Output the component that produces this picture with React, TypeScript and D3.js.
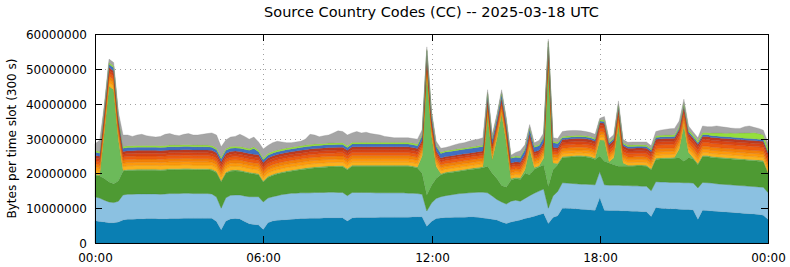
import { useEffect, useRef } from 'react'
import * as d3 from 'd3'

const WIDTH = 790
const HEIGHT = 267
const MARGIN = { top: 34, right: 22, bottom: 24, left: 95 }

// values in MB per 300 s slot, one every 10 minutes, 00:00 .. 24:00 (145 points)
const darkBlue = [
  6.4, 6.2, 6.0, 5.8, 5.8, 6.0, 6.6, 6.8, 6.8, 6.9, 6.9, 7.0,
  7.0, 7.0, 6.9, 6.9, 7.0, 7.0, 7.0, 7.1, 7.1, 7.1, 7.1, 7.1,
  7.1, 7.1, 6.2, 3.8, 6.3, 6.9, 7.0, 6.9, 6.2, 5.5, 5.3, 5.2,
  3.9, 5.8, 6.3, 6.5, 6.6, 6.7, 6.8, 6.9, 7.0, 7.0, 7.1, 7.1,
  7.1, 7.2, 7.2, 7.2, 7.2, 7.2, 6.3, 7.2, 7.3, 7.3, 7.3, 7.3,
  7.3, 7.4, 7.4, 7.4, 7.4, 7.4, 7.4, 7.4, 7.5, 7.5, 7.5, 4.8,
  6.2, 7.0, 7.2, 7.3, 7.3, 7.4, 7.4, 7.4, 7.5, 7.5, 7.4, 7.2,
  7.0, 6.8, 6.6, 6.0, 5.6, 6.0, 6.3, 6.6, 7.0, 7.3, 7.7, 8.1,
  8.5, 5.6, 7.3, 7.8, 10.0, 10.0, 9.9, 9.8, 9.7, 9.6, 9.5, 9.4,
  13.0, 9.4, 9.3, 9.3, 9.3, 9.2, 9.2, 9.1, 9.1, 9.0, 9.0, 7.6,
  10.2, 10.0, 9.9, 9.8, 9.8, 9.7, 9.6, 9.6, 9.5, 6.8, 9.4, 9.3,
  9.2, 9.1, 9.0, 8.9, 8.8, 8.7, 8.6, 8.5, 8.4, 8.3, 8.2, 8.0,
  6.8,
]
const lightBlue = [
  6.8, 6.7, 6.3, 6.0, 5.8, 6.0, 7.2, 7.2, 7.2, 7.2, 7.2, 7.1,
  7.1, 7.1, 7.1, 7.2, 7.2, 7.2, 7.2, 7.2, 7.2, 7.1, 7.1, 7.1,
  7.1, 7.0, 7.0, 6.2, 6.7, 6.8, 6.8, 6.9, 7.3, 7.8, 8.0, 8.1,
  7.9, 7.1, 7.0, 7.1, 7.3, 7.4, 7.5, 7.4, 7.4, 7.4, 7.3, 7.4,
  7.4, 7.3, 7.4, 7.4, 7.3, 7.3, 7.3, 7.3, 7.2, 7.2, 7.2, 7.2,
  7.1, 7.0, 7.0, 7.0, 7.0, 7.0, 7.0, 6.9, 6.8, 6.7, 6.5, 4.4,
  5.3, 5.8, 6.1, 6.3, 6.5, 6.6, 6.8, 6.9, 6.9, 7.0, 7.2, 7.4,
  7.4, 6.7, 5.9, 5.8, 5.6, 6.0, 6.0, 5.4, 5.8, 6.3, 6.6, 6.8,
  7.0, 4.4, 6.2, 7.0, 7.3, 7.2, 7.2, 7.2, 7.2, 7.3, 7.3, 7.3,
  7.5, 7.3, 7.3, 7.3, 7.3, 7.3, 7.3, 7.3, 7.3, 7.3, 7.3, 7.4,
  7.4, 7.5, 7.6, 7.6, 7.6, 7.7, 7.7, 7.7, 7.7, 9.0, 8.0, 8.0,
  8.0, 7.9, 7.9, 7.9, 7.9, 7.9, 7.9, 7.9, 7.9, 7.9, 7.9, 8.0,
  7.7,
]
const green = [
  6.3, 6.3, 6.2, 5.7, 5.4, 5.8, 6.8, 6.8, 6.8, 6.8, 6.8, 6.8,
  6.8, 6.8, 6.8, 6.8, 6.8, 6.8, 6.8, 6.8, 6.8, 6.8, 6.8, 6.8,
  6.8, 6.8, 7.0, 7.6, 7.0, 6.9, 6.9, 6.8, 6.8, 6.7, 6.5, 6.3,
  5.7, 5.9, 6.1, 6.2, 6.2, 6.3, 6.3, 6.5, 6.6, 6.8, 7.0, 7.0,
  7.1, 7.2, 7.2, 7.2, 7.4, 7.4, 7.4, 7.5, 7.5, 7.5, 7.5, 7.5,
  7.6, 7.6, 7.6, 7.6, 7.6, 7.6, 7.6, 7.7, 7.5, 7.3, 6.0, 4.6,
  5.0, 5.7, 6.3, 6.4, 6.4, 6.4, 6.4, 6.5, 6.6, 6.7, 6.8, 7.0,
  7.6, 6.5, 6.0, 4.7, 4.8, 6.0, 6.2, 6.2, 7.2, 6.0, 6.9, 6.9,
  6.9, 6.2, 7.5, 7.7, 7.2, 7.4, 7.6, 7.8, 7.9, 7.8, 7.7, 7.3,
  4.5, 6.8, 6.4, 5.9, 5.4, 5.5, 5.5, 5.6, 5.7, 5.8, 5.7, 6.0,
  6.4, 6.6, 6.7, 6.8, 6.9, 7.1, 6.2, 7.2, 7.0, 6.7, 7.4, 7.5,
  7.3, 7.4, 7.4, 7.4, 7.4, 7.4, 7.4, 7.4, 7.4, 7.4, 7.4, 7.4,
  5.5,
]
const lightGreen = [
  0.3, 0.3, 13.5, 27.5, 27.0, 12.0, 0.3, 0.3, 0.3, 0.3, 0.3, 0.3,
  0.3, 0.3, 0.3, 0.3, 0.3, 0.3, 0.3, 0.3, 0.3, 0.3, 0.3, 0.3,
  0.3, 0.3, 0.3, 0.3, 0.3, 0.3, 0.3, 0.3, 0.3, 0.3, 0.3, 0.3,
  0.3, 0.3, 0.3, 0.3, 0.3, 0.3, 0.3, 0.3, 0.3, 0.3, 0.3, 0.3,
  0.3, 0.3, 0.3, 0.3, 0.3, 0.3, 0.3, 0.3, 0.3, 0.3, 0.3, 0.3,
  0.3, 0.3, 0.3, 0.3, 0.3, 0.3, 0.3, 0.3, 0.3, 0.3, 5.0, 35.5,
  14.5, 3.5, 0.3, 0.3, 0.3, 0.3, 0.3, 0.3, 0.3, 0.3, 0.3, 0.3,
  15.0, 4.0, 11.5, 20.5, 13.0, 0.5, 0.3, 0.5, 1.0, 7.4, 0.5, 0.3,
  2.0, 35.5, 2.0, 0.3, 0.3, 0.3, 0.3, 0.3, 0.3, 0.3, 0.3, 0.3,
  4.6, 6.0, 0.3, 2.0, 12.0, 1.0, 0.3, 0.3, 0.3, 0.3, 0.3, 0.3,
  0.3, 0.3, 0.3, 0.3, 0.3, 2.5, 10.2, 1.5, 0.3, 0.3, 0.3, 0.3,
  0.3, 0.3, 0.3, 0.3, 0.3, 0.3, 0.3, 0.3, 0.3, 0.3, 0.3, 0.3,
  0.3,
]
const gold = [
  1.1, 1.1, 1.1, 1.1, 1.1, 1.1, 1.1, 1.1, 1.1, 1.1, 1.1, 1.1,
  1.1, 1.1, 1.1, 1.1, 1.1, 1.1, 1.1, 1.1, 1.1, 1.1, 1.1, 1.1,
  1.1, 1.1, 1.1, 1.1, 1.1, 1.1, 1.1, 1.1, 1.1, 1.1, 1.1, 1.1,
  1.0, 1.0, 1.0, 1.0, 1.0, 1.0, 1.0, 1.0, 1.0, 1.0, 1.0, 1.0,
  1.0, 1.0, 1.0, 1.0, 1.0, 1.0, 1.0, 1.0, 1.0, 1.0, 1.0, 1.0,
  1.0, 1.0, 1.0, 1.0, 1.0, 1.0, 1.0, 1.0, 1.0, 1.0, 0.9, 0.9,
  0.9, 0.9, 0.9, 0.9, 0.9, 0.9, 0.9, 0.9, 0.9, 0.9, 0.9, 0.9,
  0.9, 0.9, 0.9, 0.9, 0.9, 0.9, 0.9, 0.9, 0.9, 0.9, 0.9, 0.9,
  0.9, 0.9, 0.9, 0.9, 0.8, 0.8, 0.8, 0.8, 0.8, 0.8, 0.8, 0.8,
  0.8, 0.8, 0.8, 0.8, 0.8, 0.8, 0.8, 0.8, 0.8, 0.8, 0.8, 0.8,
  0.9, 0.9, 0.9, 0.9, 0.9, 0.9, 0.9, 0.9, 0.9, 0.9, 0.9, 0.9,
  0.9, 0.9, 0.9, 0.9, 0.9, 0.9, 0.9, 0.9, 0.9, 0.9, 0.9, 0.9,
  0.9,
]
const orange = [
  0.9, 0.9, 0.9, 0.9, 0.9, 0.9, 0.9, 0.9, 0.9, 0.9, 0.9, 0.9,
  0.9, 0.9, 0.9, 0.9, 0.9, 0.9, 0.9, 0.9, 0.9, 0.9, 0.9, 0.9,
  0.9, 0.9, 0.9, 0.9, 0.9, 0.9, 0.9, 0.9, 0.9, 0.9, 0.9, 0.9,
  0.9, 0.9, 0.9, 0.9, 0.9, 0.9, 0.9, 0.9, 0.9, 0.9, 0.9, 0.9,
  0.9, 0.9, 0.9, 0.9, 0.9, 0.9, 0.9, 0.9, 0.9, 0.9, 0.9, 0.9,
  0.9, 0.9, 0.9, 0.9, 0.9, 0.9, 0.9, 0.9, 0.9, 0.9, 0.8, 0.8,
  0.8, 0.8, 0.8, 0.8, 0.8, 0.8, 0.8, 0.8, 0.8, 0.8, 0.8, 0.8,
  0.8, 0.8, 0.8, 0.8, 0.8, 0.8, 0.8, 0.8, 0.8, 0.8, 0.8, 0.8,
  0.8, 0.8, 0.8, 0.8, 0.8, 0.8, 0.8, 0.8, 0.8, 0.8, 0.8, 0.8,
  0.8, 0.8, 0.8, 0.8, 0.8, 0.8, 0.8, 0.8, 0.8, 0.8, 0.8, 0.8,
  0.9, 0.9, 0.9, 0.9, 0.9, 0.9, 0.9, 0.9, 0.9, 0.9, 0.9, 0.9,
  0.9, 0.9, 0.9, 0.9, 0.9, 0.9, 0.9, 0.9, 0.9, 0.9, 0.9, 0.9,
  0.9,
]
const darkOrange = [
  0.9, 0.9, 0.9, 0.9, 0.9, 0.9, 0.9, 0.9, 0.9, 0.9, 0.9, 0.9,
  0.9, 0.9, 0.9, 0.9, 0.9, 0.9, 0.9, 0.9, 0.9, 0.9, 0.9, 0.9,
  0.9, 0.9, 0.9, 0.9, 0.9, 0.9, 0.9, 0.9, 0.9, 0.9, 0.9, 0.9,
  0.9, 0.9, 0.9, 0.9, 0.9, 0.9, 0.9, 0.9, 0.9, 0.9, 0.9, 0.9,
  0.9, 0.9, 0.9, 0.9, 0.9, 0.9, 0.9, 0.9, 0.9, 0.9, 0.9, 0.9,
  0.9, 0.9, 0.9, 0.9, 0.9, 0.9, 0.9, 0.9, 0.9, 0.9, 0.8, 0.8,
  0.8, 0.8, 0.8, 0.8, 0.8, 0.8, 0.8, 0.8, 0.8, 0.8, 0.8, 0.8,
  0.8, 0.8, 0.8, 0.8, 0.8, 0.8, 0.8, 0.8, 0.8, 0.8, 0.8, 0.8,
  0.8, 0.8, 0.8, 0.8, 0.8, 0.8, 0.8, 0.8, 0.8, 0.8, 0.8, 0.8,
  0.8, 0.8, 0.8, 0.8, 0.8, 0.8, 0.8, 0.8, 0.8, 0.8, 0.8, 0.8,
  0.9, 0.9, 0.9, 0.9, 0.9, 0.9, 0.9, 0.9, 0.9, 0.9, 0.9, 0.9,
  0.9, 0.9, 0.9, 0.9, 0.9, 0.9, 0.9, 0.9, 0.9, 0.9, 0.9, 0.9,
  0.9,
]
const redOrange = [
  0.9, 0.9, 0.9, 0.9, 0.9, 0.9, 0.9, 0.9, 0.9, 0.9, 0.9, 0.9,
  0.9, 0.9, 0.9, 0.9, 0.9, 0.9, 0.9, 0.9, 0.9, 0.9, 0.9, 0.9,
  0.9, 0.9, 0.9, 0.9, 0.9, 0.9, 0.9, 0.9, 0.9, 0.9, 0.9, 0.9,
  0.9, 0.9, 0.9, 0.9, 0.9, 0.9, 0.9, 0.9, 0.9, 0.9, 0.9, 0.9,
  0.9, 0.9, 0.9, 0.9, 0.9, 0.9, 0.9, 0.9, 0.9, 0.9, 0.9, 0.9,
  0.9, 0.9, 0.9, 0.9, 0.9, 0.9, 0.9, 0.9, 0.9, 0.9, 0.8, 0.8,
  0.8, 0.8, 0.8, 0.8, 0.8, 0.8, 0.8, 0.8, 0.8, 0.8, 0.8, 0.8,
  0.8, 0.8, 0.8, 0.8, 0.8, 0.8, 0.8, 0.8, 0.8, 0.8, 0.8, 0.8,
  0.8, 0.8, 0.8, 0.8, 0.9, 0.9, 0.9, 0.9, 0.9, 0.9, 0.9, 0.9,
  0.9, 0.9, 0.9, 0.9, 0.9, 0.9, 0.9, 0.9, 0.9, 0.9, 0.9, 0.9,
  1.1, 1.1, 1.1, 1.1, 1.1, 1.1, 1.1, 1.1, 1.1, 1.1, 1.1, 1.1,
  1.1, 1.1, 1.1, 1.1, 1.1, 1.1, 1.1, 1.1, 1.1, 1.1, 1.1, 1.1,
  1.1,
]
const red = [
  0.8, 0.8, 0.8, 0.8, 0.8, 0.8, 0.8, 0.8, 0.8, 0.8, 0.8, 0.8,
  0.8, 0.8, 0.8, 0.8, 0.8, 0.8, 0.8, 0.8, 0.8, 0.8, 0.8, 0.8,
  0.8, 0.8, 0.8, 0.8, 0.8, 0.8, 0.8, 0.8, 0.8, 0.8, 0.8, 0.8,
  0.8, 0.8, 0.8, 0.8, 0.8, 0.8, 0.8, 0.8, 0.8, 0.8, 0.8, 0.8,
  0.8, 0.8, 0.8, 0.8, 0.8, 0.8, 0.8, 0.8, 0.8, 0.8, 0.8, 0.8,
  0.8, 0.8, 0.8, 0.8, 0.8, 0.8, 0.8, 0.8, 0.8, 0.8, 0.6, 0.6,
  0.6, 0.6, 0.6, 0.6, 0.6, 0.6, 0.6, 0.6, 0.6, 0.6, 0.6, 0.6,
  0.6, 0.6, 0.6, 0.6, 0.6, 0.6, 0.6, 0.6, 0.6, 0.6, 0.6, 0.6,
  0.6, 0.6, 0.6, 0.6, 0.8, 0.8, 0.8, 0.8, 0.8, 0.8, 0.8, 0.8,
  0.8, 0.8, 0.8, 0.8, 0.8, 0.8, 0.8, 0.8, 0.8, 0.8, 0.8, 0.8,
  0.9, 0.9, 0.9, 0.9, 0.9, 0.9, 0.9, 0.9, 0.9, 0.9, 0.9, 0.9,
  0.9, 0.9, 0.9, 0.9, 0.9, 0.9, 0.9, 0.9, 0.9, 0.9, 0.9, 0.9,
  0.9,
]
const darkRed = [
  0.8, 0.8, 0.8, 0.8, 0.8, 0.8, 0.8, 0.8, 0.8, 0.8, 0.8, 0.8,
  0.8, 0.8, 0.8, 0.8, 0.8, 0.8, 0.8, 0.8, 0.8, 0.8, 0.8, 0.8,
  0.8, 0.8, 0.8, 0.8, 0.8, 0.8, 0.8, 0.8, 0.8, 0.8, 0.8, 0.8,
  0.8, 0.8, 0.8, 0.8, 0.8, 0.8, 0.8, 0.8, 0.8, 0.8, 0.8, 0.8,
  0.8, 0.8, 0.8, 0.8, 0.8, 0.8, 0.8, 0.8, 0.8, 0.8, 0.8, 0.8,
  0.8, 0.8, 0.8, 0.8, 0.8, 0.8, 0.8, 0.8, 0.8, 0.8, 0.6, 0.6,
  0.6, 0.6, 0.6, 0.6, 0.6, 0.6, 0.6, 0.6, 0.6, 0.6, 0.6, 0.6,
  0.6, 0.6, 0.6, 0.6, 0.6, 0.6, 0.6, 0.6, 0.6, 0.6, 0.6, 0.6,
  0.6, 0.6, 0.6, 0.6, 0.8, 0.8, 0.8, 0.8, 0.8, 0.8, 0.8, 0.8,
  0.8, 0.8, 0.8, 0.8, 0.8, 0.8, 0.8, 0.8, 0.8, 0.8, 0.8, 0.8,
  0.8, 0.8, 0.8, 0.8, 0.8, 0.8, 0.8, 0.8, 0.8, 0.8, 0.8, 0.8,
  0.8, 0.8, 0.8, 0.8, 0.8, 0.8, 0.8, 0.8, 0.8, 0.8, 0.8, 0.8,
  0.8,
]
const blue = [
  0.9, 0.9, 0.9, 0.9, 0.9, 0.9, 0.9, 0.9, 0.9, 0.9, 0.9, 0.9,
  0.9, 0.9, 0.9, 0.9, 0.9, 0.9, 0.9, 0.9, 0.9, 0.9, 0.9, 0.9,
  0.9, 0.9, 0.9, 0.9, 0.9, 0.9, 0.9, 0.9, 0.9, 0.9, 1.6, 0.9,
  0.8, 0.8, 0.8, 0.8, 0.8, 0.8, 0.8, 0.8, 0.8, 0.8, 0.8, 0.8,
  0.8, 0.8, 0.8, 0.8, 0.8, 0.8, 0.8, 0.8, 0.8, 0.8, 0.8, 0.8,
  0.8, 0.8, 0.8, 0.8, 0.8, 0.8, 0.8, 0.8, 0.8, 0.8, 1.3, 1.3,
  1.3, 1.3, 1.3, 1.3, 1.3, 1.3, 1.3, 1.3, 1.3, 1.3, 1.3, 1.3,
  1.3, 1.3, 1.3, 1.3, 1.3, 1.3, 1.3, 1.3, 1.3, 1.3, 1.3, 1.3,
  1.3, 1.3, 1.3, 1.3, 0.5, 0.5, 0.5, 0.5, 0.5, 0.5, 0.5, 0.5,
  0.5, 0.5, 0.5, 0.5, 0.5, 0.5, 0.5, 0.5, 0.5, 0.5, 0.5, 0.5,
  0.5, 0.5, 0.5, 0.5, 0.5, 0.5, 0.5, 0.5, 0.5, 0.5, 0.5, 0.5,
  0.5, 0.5, 0.5, 0.5, 0.5, 0.5, 0.5, 0.5, 0.5, 0.5, 0.5, 0.5,
  0.5,
]
const brightGreen = [
  0.5, 0.5, 0.5, 0.5, 0.5, 0.5, 0.5, 0.5, 0.5, 0.5, 0.5, 0.5,
  0.5, 0.5, 0.5, 0.5, 0.5, 0.5, 0.5, 0.5, 0.5, 0.5, 0.5, 0.5,
  0.5, 0.5, 0.5, 0.5, 0.5, 0.5, 0.5, 0.5, 0.5, 0.5, 0.5, 0.5,
  0.5, 0.5, 0.5, 0.5, 0.5, 0.5, 0.5, 0.5, 0.5, 0.5, 0.5, 0.5,
  0.5, 0.5, 0.5, 0.5, 0.5, 0.5, 0.5, 0.5, 0.5, 0.5, 0.5, 0.5,
  0.5, 0.5, 0.5, 0.5, 0.5, 0.5, 0.5, 0.5, 0.5, 0.5, 0.4, 0.4,
  0.4, 0.4, 0.4, 0.4, 0.4, 0.4, 0.4, 0.4, 0.4, 0.4, 0.4, 0.4,
  0.4, 0.4, 0.4, 0.4, 0.4, 0.4, 0.4, 0.4, 0.4, 0.4, 0.4, 0.4,
  0.4, 0.4, 0.4, 0.4, 0.4, 0.4, 0.4, 0.4, 0.4, 0.4, 0.4, 0.4,
  0.4, 0.4, 0.4, 0.4, 0.4, 0.4, 0.4, 0.4, 0.4, 0.4, 0.4, 0.4,
  0.5, 0.5, 0.5, 0.5, 0.5, 0.5, 0.6, 0.6, 0.6, 0.6, 0.6, 0.6,
  0.8, 0.9, 1.0, 1.0, 1.2, 1.2, 1.4, 1.5, 1.6, 1.8, 1.6, 1.4,
  1.0,
]
const gray = [
  1.9, 3.2, 0.8, 1.0, 1.0, 1.0, 3.3, 3.1, 2.7, 3.0, 3.2, 2.8,
  2.6, 2.4, 2.7, 3.2, 3.3, 2.9, 2.7, 3.0, 3.2, 2.9, 2.9, 3.1,
  3.3, 3.6, 3.7, 2.9, 2.5, 2.7, 2.8, 3.5, 3.2, 2.7, 2.8, 2.3,
  2.6, 2.3, 2.5, 2.5, 2.0, 1.5, 1.3, 1.3, 1.3, 1.7, 2.9, 2.6,
  2.0, 2.2, 2.3, 2.9, 3.4, 3.2, 3.1, 2.7, 3.1, 2.7, 2.9, 2.5,
  2.3, 2.1, 1.7, 1.5, 1.3, 1.3, 1.3, 1.3, 1.3, 1.4, 1.3, 0.8,
  0.8, 1.0, 1.1, 0.9, 1.1, 1.3, 1.5, 1.5, 1.7, 1.9, 1.9, 2.1,
  0.8, 1.0, 0.8, 0.8, 0.8, 0.5, 1.0, 1.6, 1.0, 0.8, 0.9, 1.1,
  1.0, 0.6, 1.0, 1.0, 1.4, 1.5, 1.5, 1.4, 1.3, 1.2, 1.1, 1.1,
  0.4, 1.0, 0.8, 0.8, 1.0, 0.9, 0.8, 0.9, 0.8, 0.8, 0.9, 0.8,
  1.2, 1.5, 1.6, 1.8, 1.8, 1.5, 1.0, 1.0, 0.8, 0.8, 1.9, 1.7,
  1.8, 2.0, 1.8, 1.7, 1.4, 1.4, 1.3, 1.8, 2.0, 1.5, 1.5, 1.3,
  1.5,
]

const SERIES = [
  { key: 'darkBlue', values: darkBlue, color: '#0a7fb3' },
  { key: 'lightBlue', values: lightBlue, color: '#8bc1e1' },
  { key: 'green', values: green, color: '#4e9a33' },
  { key: 'lightGreen', values: lightGreen, color: '#6cba5a' },
  { key: 'gold', values: gold, color: '#fbb11c' },
  { key: 'orange', values: orange, color: '#fd990c' },
  { key: 'darkOrange', values: darkOrange, color: '#f28008' },
  { key: 'redOrange', values: redOrange, color: '#ec5c10' },
  { key: 'red', values: red, color: '#d94414' },
  { key: 'darkRed', values: darkRed, color: '#bd3a1f' },
  { key: 'blue', values: blue, color: '#406fc1' },
  { key: 'brightGreen', values: brightGreen, color: '#95df3c' },
  { key: 'gray', values: gray, color: '#a5a5a5' },
]

const DAY_START = new Date(Date.UTC(2025, 2, 18, 0, 0))
const DAY_END = new Date(Date.UTC(2025, 2, 19, 0, 0))
const SLOT_MS = 10 * 60 * 1000
const Y_MAX = 60000000
const FONT = 'DejaVu Sans, sans-serif'

export default function App() {
  const svgRef = useRef<SVGSVGElement | null>(null)

  useEffect(() => {
    const el = svgRef.current
    if (!el) return
    d3.select(el).selectAll('*').remove()

    const iW = WIDTH - MARGIN.left - MARGIN.right
    const iH = HEIGHT - MARGIN.top - MARGIN.bottom

    const rows = darkBlue.map((_, i) => {
      const row: any = { t: new Date(DAY_START.getTime() + i * SLOT_MS) }
      SERIES.forEach((s) => { row[s.key] = s.values[i] * 1e6 })
      return row
    })

    const x = d3.scaleUtc().domain([DAY_START, DAY_END]).range([0, iW])
    const y = d3.scaleLinear().domain([0, Y_MAX]).range([iH, 0])

    const stacked = d3.stack().keys(SERIES.map((s) => s.key))(rows)

    const svg = d3.select(el)
      .attr('width', WIDTH)
      .attr('height', HEIGHT)
      .attr('viewBox', `0 0 ${WIDTH} ${HEIGHT}`)
      .style('font-family', FONT)

    svg.append('rect').attr('width', WIDTH).attr('height', HEIGHT).attr('fill', '#fff')

    // Title + axis label
    svg.append('text')
      .attr('x', MARGIN.left + iW / 2)
      .attr('y', 17)
      .attr('text-anchor', 'middle')
      .attr('font-size', '14.5px')
      .attr('fill', '#000')
      .text('Source Country Codes (CC) -- 2025-03-18 UTC')

    svg.append('text')
      .attr('transform', 'rotate(-90)')
      .attr('x', -(MARGIN.top + iH / 2))
      .attr('y', 16)
      .attr('text-anchor', 'middle')
      .attr('font-size', '12px')
      .attr('fill', '#000')
      .text('Bytes per time slot (300 s)')

    const root = svg.append('g').attr('transform', `translate(${MARGIN.left},${MARGIN.top})`)

    const xTicks = x.ticks(d3.utcHour.every(6) as any)
    const yTicks = d3.range(0, Y_MAX + 1, 10000000)

    // Grid
    const grid = root.append('g')
      .attr('stroke', '#a0a0a0')
      .attr('stroke-width', 1)
      .attr('stroke-dasharray', '1,4')
    grid.selectAll('line.gy')
      .data(yTicks.slice(1, -1))
      .join('line')
      .attr('x1', 0).attr('x2', iW)
      .attr('y1', (d) => Math.round(y(d)) + 0.5)
      .attr('y2', (d) => Math.round(y(d)) + 0.5)
    grid.selectAll('line.gx')
      .data(xTicks.slice(1, -1))
      .join('line')
      .attr('y1', 0).attr('y2', iH)
      .attr('x1', (d) => Math.round(x(d)) + 0.5)
      .attr('x2', (d) => Math.round(x(d)) + 0.5)

    // Stacked areas
    const area = d3.area<any>()
      .x((d) => x(d.data.t))
      .y0((d) => y(d[0]))
      .y1((d) => y(d[1]))

    root.append('g').selectAll('path')
      .data(stacked)
      .join('path')
      .attr('d', area)
      .attr('fill', (_, i) => SERIES[i].color)
      .attr('stroke', (_, i) => d3.color(SERIES[i].color)!.darker(0.5).formatHex())
      .attr('stroke-width', 0.5)
      .attr('stroke-opacity', 0.6)

    // Frame
    root.append('rect')
      .attr('x', 0.5).attr('y', 0.5)
      .attr('width', iW).attr('height', iH)
      .attr('fill', 'none')
      .attr('stroke', '#000')

    // Y ticks (inward, both sides) + labels
    const yAxis = root.append('g')
    yTicks.forEach((v) => {
      const yy = Math.round(y(v)) + 0.5
      yAxis.append('line').attr('x1', 0).attr('x2', 7).attr('y1', yy).attr('y2', yy).attr('stroke', '#000')
      yAxis.append('line').attr('x1', iW - 7).attr('x2', iW).attr('y1', yy).attr('y2', yy).attr('stroke', '#000')
      yAxis.append('text')
        .attr('x', -8)
        .attr('y', yy + 4)
        .attr('text-anchor', 'end')
        .attr('font-size', '12px')
        .attr('fill', '#000')
        .text(d3.format('d')(v))
    })

    // X ticks (inward, top and bottom) + labels
    const xAxis = root.append('g')
    const fmt = d3.utcFormat('%H:%M')
    xTicks.forEach((t) => {
      const xx = Math.round(x(t)) + 0.5
      xAxis.append('line').attr('x1', xx).attr('x2', xx).attr('y1', iH).attr('y2', iH - 7).attr('stroke', '#000')
      xAxis.append('line').attr('x1', xx).attr('x2', xx).attr('y1', 0).attr('y2', 7).attr('stroke', '#000')
      xAxis.append('text')
        .attr('x', xx)
        .attr('y', iH + 19)
        .attr('text-anchor', 'middle')
        .attr('font-size', '12px')
        .attr('fill', '#000')
        .text(fmt(t))
    })
  }, [])

  return (
    <svg
      ref={svgRef}
      style={{ position: 'absolute', left: 0, top: 0, display: 'block' }}
    />
  )
}
